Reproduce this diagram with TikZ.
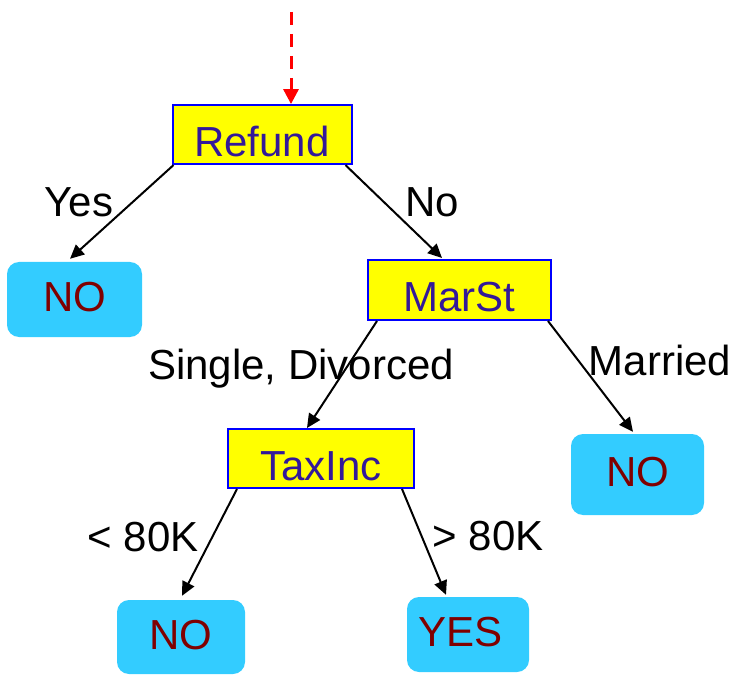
\documentclass[tikz,border=0pt]{standalone}
\usepackage{fontspec}
\setmainfont{Liberation Sans}
\usetikzlibrary{arrows.meta}
\definecolor{testfill}{RGB}{255,255,0}
\definecolor{testedge}{RGB}{0,0,255}
\definecolor{testtext}{RGB}{51,25,153}
\definecolor{leaffill}{RGB}{51,204,255}
\definecolor{leaftext}{RGB}{128,0,0}
\begin{document}
\begin{tikzpicture}[x=1pt,y=-1pt,
  font=\fontsize{42}{50}\selectfont,
  test/.style={draw=testedge,line width=2pt,fill=testfill,text=testtext,
    inner sep=0pt,anchor=center,text height=43pt,text depth=0pt},
  leaf/.style={fill=leaffill,text=leaftext,rounded corners=12pt,
    inner sep=0pt,anchor=center,text height=24pt,text depth=0pt},
  edge/.style={draw=black,line width=2pt,-{Triangle[length=14pt,width=13pt]}},
  entry/.style={draw=red,line width=3pt,dash pattern=on 13pt off 9pt,
    -{Triangle[length=15pt,width=15pt]}},
  branch/.style={inner sep=0pt,anchor=center,text=black}]
\useasboundingbox (0,0) rectangle (736,676);

% internal tests
\node[test,minimum width=179pt,minimum height=59pt] (refund) at (262,134.6) {Refund};
\node[test,minimum width=183pt,minimum height=60pt] (marst) at (459.5,290) {MarSt};
\node[test,minimum width=186pt,minimum height=59pt] (taxinc) at (321,458.5) {TaxInc};

% leaves
\node[leaf,minimum width=135pt,minimum height=75pt] (noA) at (74.5,299.5) {NO};
\node[leaf,minimum width=133pt,minimum height=81pt] (noB) at (637.5,474.5) {NO};
\node[leaf,minimum width=128pt,minimum height=74pt] (noC) at (181,637) {NO};
\node[leaf,minimum height=75pt,text width=100pt,align=left,inner xsep=11pt] (yes) at (468,634.5) {YES};

% entry into the tree
\coordinate (start) at (291,12);
\draw[entry] (start) -- (refund.north -| start);

% branches
\draw[edge] ([xshift=2pt]refund.south west) -- ([xshift=-4.5pt,yshift=3pt]noA.north);
\draw[edge] ([xshift=-7pt]refund.south east) -- ([xshift=-17.5pt,yshift=1pt]marst.north);
\draw[edge] ([xshift=10pt]marst.south west) -- ([xshift=-14pt]taxinc.north);
\draw[edge] ([xshift=-4pt]marst.south east) -- ([xshift=-4.5pt,yshift=2pt]noB.north);
\draw[edge] ([xshift=10pt]taxinc.south west) -- ([xshift=1pt,yshift=4pt]noC.north);
\draw[edge] ([xshift=-13pt]taxinc.south east) -- ([xshift=-22pt,yshift=2pt]yes.north);

% branch labels
\node[branch] (lyes) at (79,202) {Yes};
\node[branch] (lno) at (432,202) {No};
\node[branch] (lsd) at (301,369) {Single, Divorced};
\node[branch] (lmar) at (660,360) {Married};
\node[branch] (llt) at (143,537) {< 80K};
\node[branch] (lgt) at (488,536) {> 80K};
\end{tikzpicture}
\end{document}
